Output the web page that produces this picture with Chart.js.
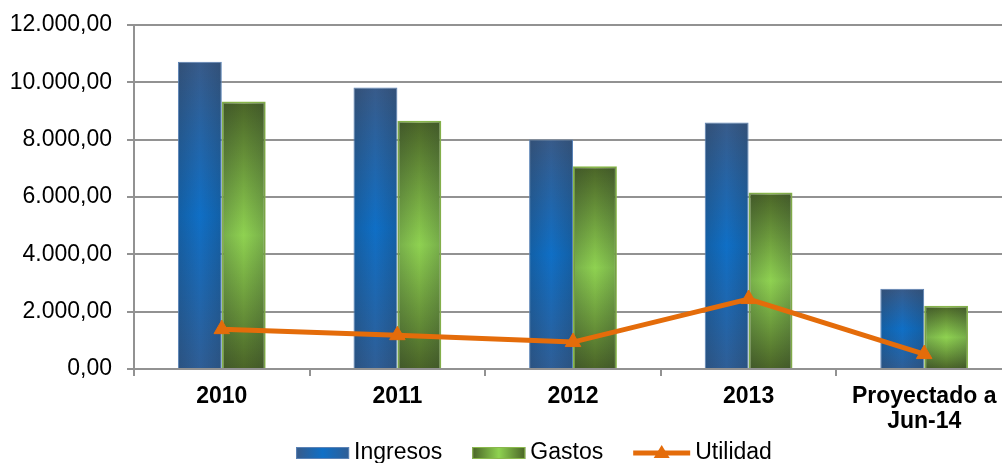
<!DOCTYPE html>
<html>
<head>
<meta charset="utf-8">
<script src="https://cdn.jsdelivr.net/npm/chart.js@4/dist/chart.umd.min.js"></script>
<style>
  html, body { margin: 0; padding: 0; background: #fff; overflow: hidden; }
  /* plot area runs a little past the right edge in the original, so the canvas is wider than the window */
  #wrap { width: 1022px; height: 463px; }
</style>
</head>
<body>
<div id="wrap"><canvas id="chart"></canvas></div>
<script>
// values
const categories = ['2010', '2011', '2012', '2013', ['Proyectado a', 'Jun-14']];
const ingresos = [10720, 9820, 8010, 8600, 2800];
const gastos = [9330, 8660, 7070, 6160, 2210];
const utilidad = [1390, 1180, 940, 2440, 520];

const FONT = '"Liberation Sans", Arial, sans-serif';

// 12000 -> "12.000,00"
function fmt(v) {
    const parts = v.toFixed(2).split('.');
    parts[0] = parts[0].replace(/\B(?=(\d{3})+(?!\d))/g, '.');
    return parts.join(',');
}

// vertical gradient per bar: dark at top/bottom, bright in the middle
function barFill(stops, fallback) {
    return function(c) {
        const chart = c.chart;
        if (!chart.chartArea || c.raw == null) return fallback;
        const y = chart.scales.y;
        const top = y.getPixelForValue(c.raw);
        const bot = y.getPixelForValue(0);
        if (!isFinite(top) || bot - top < 1) return fallback;
        const g = chart.ctx.createLinearGradient(0, top, 0, bot);
        g.addColorStop(0, stops[0]);
        g.addColorStop(0.5, stops[1]);
        g.addColorStop(1, stops[2]);
        return g;
    };
}

const blueStops = ['#385b8a', '#0f6fc6', '#2f5e96'];
const greenStops = ['#4a6427', '#8fd251', '#4a6427'];

// darken bar edges a bit so it looks like the path gradient of the original
const edgeShade = {
    id: 'edgeShade',
    afterDatasetDraw(chart, args) {
        const ds = chart.data.datasets[args.index];
        if (ds.type === 'line') return;
        const ctx = chart.ctx;
        ctx.save();
        args.meta.data.forEach(bar => {
            const p = bar.getProps(['x', 'y', 'base', 'width'], true);
            const l = p.x - p.width / 2, r = p.x + p.width / 2;
            const g = ctx.createLinearGradient(l, 0, r, 0);
            g.addColorStop(0, 'rgba(30,40,50,0.22)');
            g.addColorStop(0.5, 'rgba(30,40,50,0)');
            g.addColorStop(1, 'rgba(30,40,50,0.22)');
            ctx.fillStyle = g;
            ctx.fillRect(l + 1, p.y + 1, p.width - 2, p.base - p.y - 1);
        });
        ctx.restore();
    }
};

// legend drawn by hand: wide swatches like the original
const bottomLegend = {
    id: 'bottomLegend',
    afterDraw(chart) {
        const ctx = chart.ctx;
        ctx.save();
        ctx.font = '23px ' + FONT;
        ctx.textBaseline = 'middle';
        const items = chart.data.datasets.map(ds => ({
            ds, w: ds.type === 'line' ? 57 : 53, tw: ctx.measureText(ds.label).width
        }));
        const total = items.reduce((s, it) => s + it.w + 5 + it.tw, 0) + 30 * (items.length - 1);
        let x = 534 - total / 2;
        const yc = 453;
        items.forEach(it => {
            if (it.ds.type === 'line') {
                ctx.strokeStyle = it.ds.borderColor;
                ctx.lineWidth = 5;
                ctx.beginPath();
                ctx.moveTo(x, yc);
                ctx.lineTo(x + it.w, yc);
                ctx.stroke();
                ctx.fillStyle = it.ds.borderColor;
                ctx.beginPath();
                ctx.moveTo(x + it.w / 2, yc - 8);
                ctx.lineTo(x + it.w / 2 + 8, yc + 5);
                ctx.lineTo(x + it.w / 2 - 8, yc + 5);
                ctx.closePath();
                ctx.fill();
            } else {
                const stops = it.ds.label === 'Ingresos' ? blueStops : greenStops;
                const g = ctx.createLinearGradient(x, 0, x + it.w, 0);
                g.addColorStop(0, stops[0]);
                g.addColorStop(0.5, stops[1]);
                g.addColorStop(1, stops[2]);
                ctx.fillStyle = g;
                ctx.fillRect(x, yc - 6, it.w, 12);
                ctx.strokeStyle = it.ds.borderColor;
                ctx.lineWidth = 1;
                ctx.strokeRect(x + 0.5, yc - 5.5, it.w - 1, 11);
            }
            x += it.w + 5;
            ctx.fillStyle = '#000';
            ctx.fillText(it.ds.label, x, yc);
            x += it.tw + 30;
        });
        ctx.restore();
    }
};

new Chart(document.getElementById('chart'), {
    type: 'bar',
    data: {
        labels: categories,
        datasets: [
            {
                label: 'Ingresos',
                data: ingresos,
                backgroundColor: barFill(blueStops, '#1f6bb8'),
                borderColor: '#5b83b6',
                borderWidth: 1,
                categoryPercentage: 0.5,
                barPercentage: 1,
                order: 2
            },
            {
                label: 'Gastos',
                data: gastos,
                backgroundColor: barFill(greenStops, '#6e9e3c'),
                borderColor: '#8ab84c',
                borderWidth: 2,
                categoryPercentage: 0.5,
                barPercentage: 1,
                order: 2
            },
            {
                type: 'line',
                label: 'Utilidad',
                data: utilidad,
                borderColor: '#e46c0a',
                backgroundColor: '#e46c0a',
                borderWidth: 5,
                pointStyle: 'triangle',
                pointRadius: 9,
                pointBorderWidth: 1,
                tension: 0,
                order: 1
            }
        ]
    },
    options: {
        responsive: true,
        maintainAspectRatio: false,
        animation: false,
        layout: { padding: { top: 0, right: 0, bottom: 0, left: 0 } },
        plugins: {
            legend: { display: false },
            tooltip: { enabled: false }
        },
        scales: {
            x: {
                grid: { display: true, drawOnChartArea: false, drawTicks: true, tickLength: 7, color: '#929292', lineWidth: 2, offset: true },
                border: { color: '#929292', width: 2 },
                ticks: { color: '#000', font: { family: FONT, size: 23, weight: 'bold', lineHeight: 1.05 }, padding: 9, maxRotation: 0, autoSkip: false },
                afterFit(scale) { scale.height = 94; }
            },
            y: {
                min: 0,
                max: 12000,
                ticks: { stepSize: 2000, color: '#000', font: { family: FONT, size: 23, lineHeight: 0.87 }, padding: 15, callback: v => fmt(v) },
                grid: { color: '#929292', lineWidth: 2, tickLength: 7 },
                border: { color: '#929292', width: 2 },
                afterFit(scale) { scale.width = 134; }
            }
        }
    },
    plugins: [edgeShade, bottomLegend]
});
</script>
</body>
</html>
